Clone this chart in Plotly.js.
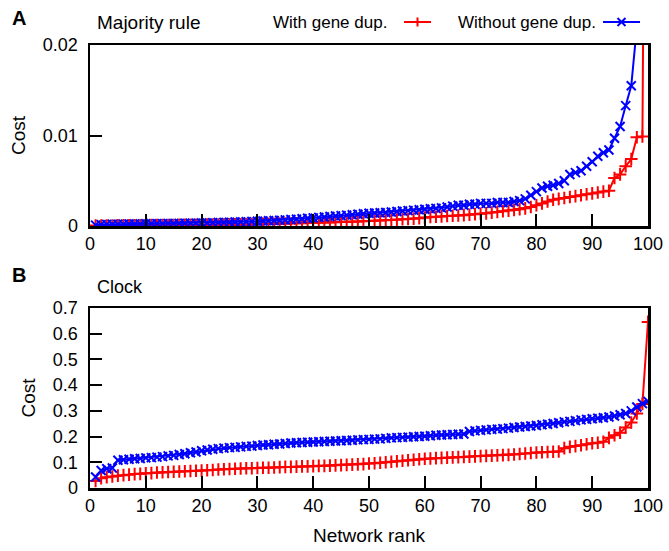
<!DOCTYPE html>
<html>
<head>
<meta charset="utf-8">
<script src="https://cdn.plot.ly/plotly-3.0.1.min.js"></script>
<style>html,body{margin:0;padding:0;background:#fff;}#chart{width:669px;height:551px;}</style>
</head>
<body>
<div id="chart"></div>
<script>
// Network rank (x values)
const rank = [1,2,3,4,5,6,7,8,9,10,11,12,13,14,15,16,17,18,19,20,
  21,22,23,24,25,26,27,28,29,30,31,32,33,34,35,36,37,38,39,40,
  41,42,43,44,45,46,47,48,49,50,51,52,53,54,55,56,57,58,59,60,
  61,62,63,64,65,66,67,68,69,70,71,72,73,74,75,76,77,78,79,80,
  81,82,83,84,85,86,87,88,89,90,91,92,93,94,95,96,97,98,99,100];

// Panel A: Majority rule
const majWith = [
  0.00005,0.00005,0.00006,0.00006,0.00007,0.00007,0.00008,0.00008,0.00009,0.00009,
  0.0001,0.0001,0.0001,0.00011,0.00011,0.00012,0.00012,0.00013,0.00013,0.00014,
  0.00015,0.00015,0.00016,0.00017,0.00018,0.00019,0.0002,0.0002,0.00021,0.00022,
  0.00023,0.00024,0.00025,0.00026,0.00027,0.00028,0.0003,0.00031,0.00033,0.00035,
  0.00037,0.00039,0.0004,0.00042,0.00044,0.00046,0.00048,0.0005,0.00052,0.00055,
  0.00058,0.00061,0.00064,0.00067,0.0007,0.00074,0.00078,0.00082,0.00087,0.00093,
  0.001,0.00103,0.00106,0.0011,0.00113,0.00116,0.0012,0.00125,0.0013,0.00135,
  0.0014,0.00148,0.00156,0.00163,0.0017,0.00178,0.00186,0.00195,0.0021,0.0023,
  0.0025,0.0027,0.0029,0.003,0.0031,0.0032,0.0033,0.0034,0.0035,0.0036,
  0.0037,0.0038,0.0039,0.0053,0.0057,0.0066,0.0074,0.0098,0.0099,0.1];
const majWithout = [
  0.0001,0.00015,0.00018,0.0002,0.0002,0.00021,0.00022,0.00022,0.00023,0.00024,
  0.00025,0.00026,0.00026,0.00027,0.00028,0.00029,0.0003,0.00031,0.00032,0.00033,
  0.00034,0.00036,0.00038,0.0004,0.00042,0.00044,0.00046,0.00048,0.0005,0.00052,
  0.00055,0.00058,0.00061,0.00064,0.00068,0.00072,0.00076,0.0008,0.00085,0.0009,
  0.00095,0.001,0.00105,0.0011,0.00115,0.0012,0.00125,0.0013,0.00135,0.0014,
  0.00143,0.00146,0.0015,0.00155,0.0016,0.00165,0.0017,0.00175,0.0018,0.00185,
  0.0019,0.00195,0.002,0.0021,0.0022,0.0023,0.0023,0.0024,0.0024,0.0025,
  0.0025,0.0025,0.0026,0.0026,0.0026,0.0027,0.0028,0.003,0.0034,0.0038,
  0.0042,0.0044,0.0045,0.0047,0.005,0.0057,0.0059,0.0061,0.0066,0.0071,
  0.0077,0.0081,0.0084,0.0097,0.011,0.0133,0.0155,0.022,0.03,0.04];

// Panel B: Clock
const clockWith = [
  0.027,0.038,0.042,0.045,0.048,0.05,0.052,0.054,0.055,0.057,
  0.058,0.06,0.061,0.062,0.063,0.064,0.065,0.066,0.067,0.068,
  0.069,0.07,0.072,0.073,0.074,0.075,0.076,0.077,0.077,0.078,
  0.079,0.079,0.08,0.081,0.082,0.082,0.083,0.084,0.084,0.085,
  0.086,0.086,0.087,0.088,0.089,0.09,0.091,0.092,0.093,0.095,
  0.096,0.098,0.1,0.102,0.104,0.106,0.108,0.11,0.112,0.114,
  0.115,0.116,0.117,0.118,0.119,0.12,0.121,0.122,0.123,0.124,
  0.125,0.126,0.127,0.128,0.129,0.13,0.132,0.134,0.136,0.138,
  0.139,0.14,0.141,0.142,0.155,0.16,0.163,0.166,0.17,0.174,
  0.176,0.18,0.195,0.205,0.215,0.235,0.255,0.29,0.327,0.646];
const clockWithout = [
  0.043,0.068,0.075,0.078,0.108,0.11,0.112,0.114,0.115,0.117,
  0.118,0.12,0.122,0.125,0.127,0.13,0.133,0.137,0.14,0.145,
  0.148,0.151,0.153,0.155,0.157,0.158,0.16,0.162,0.163,0.165,
  0.167,0.168,0.17,0.171,0.173,0.175,0.176,0.177,0.178,0.179,
  0.18,0.181,0.182,0.183,0.184,0.185,0.186,0.187,0.188,0.189,
  0.19,0.191,0.193,0.195,0.196,0.197,0.198,0.199,0.2,0.201,
  0.203,0.205,0.206,0.207,0.208,0.209,0.21,0.22,0.222,0.224,
  0.226,0.228,0.229,0.231,0.233,0.235,0.237,0.239,0.241,0.243,
  0.246,0.248,0.251,0.254,0.257,0.259,0.262,0.265,0.267,0.269,
  0.271,0.273,0.276,0.28,0.285,0.29,0.3,0.315,0.328,0.337];

const xTicks = [0,10,20,30,40,50,60,70,80,90,100];
const yTicksA = [0,0.01,0.02];
const yTicksALabels = ['0','0.01','0.02'];
const yTicksB = [0,0.1,0.2,0.3,0.4,0.5,0.6,0.7];
const seriesNames = ['With gene dup.','Without gene dup.'];
const RED = '#ff0000', BLUE = '#0000ff';

const FONT = 'Liberation Sans, Arial, sans-serif';

function tr(x, y, xa, ya, color, sym) {
  return {
    x: x, y: y, xaxis: xa, yaxis: ya, type: 'scatter', mode: 'lines+markers',
    showlegend: false,
    line: {color: color, width: 2},
    marker: {symbol: sym, size: 9, color: color, line: {color: color, width: 2}}
  };
}

const data = [
  tr(rank, majWith, 'x', 'y', RED, 'cross-thin'),
  tr(rank, majWithout, 'x', 'y', BLUE, 'x-thin'),
  tr(rank, clockWith, 'x2', 'y2', RED, 'cross-thin'),
  tr(rank, clockWithout, 'x2', 'y2', BLUE, 'x-thin')
];

const axBase = {
  showline: true, linecolor: '#000', linewidth: 2.5, mirror: true,
  ticks: 'inside', ticklen: 12, tickwidth: 2, tickcolor: '#000',
  showgrid: false, zeroline: false, fixedrange: true,
  tickfont: {family: FONT, size: 18, color: '#000'}
};

const PW = 558, PH = 443, X0 = 90, Y0 = 488;
function px(x){ return (x - X0) / PW; }
function py(y){ return (Y0 - y) / PH; }

const legY = 22;
const shapes = [
  {type:'line', xref:'paper', yref:'paper', x0:px(404), x1:px(431), y0:py(legY), y1:py(legY), line:{color:RED, width:2}},
  {type:'line', xref:'paper', yref:'paper', x0:px(417.5), x1:px(417.5), y0:py(legY-4.5), y1:py(legY+4.5), line:{color:RED, width:2}},
  {type:'line', xref:'paper', yref:'paper', x0:px(603), x1:px(640), y0:py(legY), y1:py(legY), line:{color:BLUE, width:2}},
  {type:'line', xref:'paper', yref:'paper', x0:px(617.5), x1:px(625.5), y0:py(legY-4), y1:py(legY+4), line:{color:BLUE, width:2}},
  {type:'line', xref:'paper', yref:'paper', x0:px(617.5), x1:px(625.5), y0:py(legY+4), y1:py(legY-4), line:{color:BLUE, width:2}}
];

const annotations = [
  {text:'<b>A</b>', xref:'paper', yref:'paper', x:px(10), y:py(18), xanchor:'left', yanchor:'middle', showarrow:false, font:{family:FONT, size:20, color:'#000'}},
  {text:'<b>B</b>', xref:'paper', yref:'paper', x:px(10), y:py(275), xanchor:'left', yanchor:'middle', showarrow:false, font:{family:FONT, size:20, color:'#000'}},
  {text:'Majority rule', xref:'paper', yref:'paper', x:px(95), y:py(22), xanchor:'left', yanchor:'middle', showarrow:false, font:{family:FONT, size:19, color:'#000'}},
  {text:'Clock', xref:'paper', yref:'paper', x:px(95), y:py(287), xanchor:'left', yanchor:'middle', showarrow:false, font:{family:FONT, size:18, color:'#000'}},
  {text:seriesNames[0], xref:'paper', yref:'paper', x:px(389), y:py(legY), xanchor:'right', yanchor:'middle', showarrow:false, font:{family:FONT, size:17, color:'#000'}},
  {text:seriesNames[1], xref:'paper', yref:'paper', x:px(598), y:py(legY), xanchor:'right', yanchor:'middle', showarrow:false, font:{family:FONT, size:17, color:'#000'}}
];

const layout = {
  width: 669, height: 551,
  margin: {l: 90, r: 21, t: 45, b: 63},
  paper_bgcolor: '#fff', plot_bgcolor: '#fff',
  showlegend: false,
  font: {family: FONT, color: '#000'},
  xaxis: Object.assign({}, axBase, {anchor:'y', range:[0,100], tickvals:xTicks}),
  yaxis: Object.assign({}, axBase, {anchor:'x', domain:[py(226), 1], range:[0,0.02], tickvals:yTicksA, ticktext:yTicksALabels, ticklabelstandoff: 6,
    title:{text:'Cost', font:{family:FONT, size:19, color:'#000'}, standoff: 12}}),
  xaxis2: Object.assign({}, axBase, {anchor:'y2', range:[0,100], tickvals:xTicks,
    title:{text:'Network rank', font:{family:FONT, size:19, color:'#000'}, standoff: 14}}),
  yaxis2: Object.assign({}, axBase, {anchor:'x2', domain:[0, py(308)], range:[0,0.7], tickvals:yTicksB, ticklabelstandoff: 6,
    title:{text:'Cost', font:{family:FONT, size:19, color:'#000'}, standoff: 12}}),
  shapes: shapes,
  annotations: annotations
};

Plotly.newPlot('chart', data, layout, {displayModeBar: false, staticPlot: true});
</script>
</body>
</html>
